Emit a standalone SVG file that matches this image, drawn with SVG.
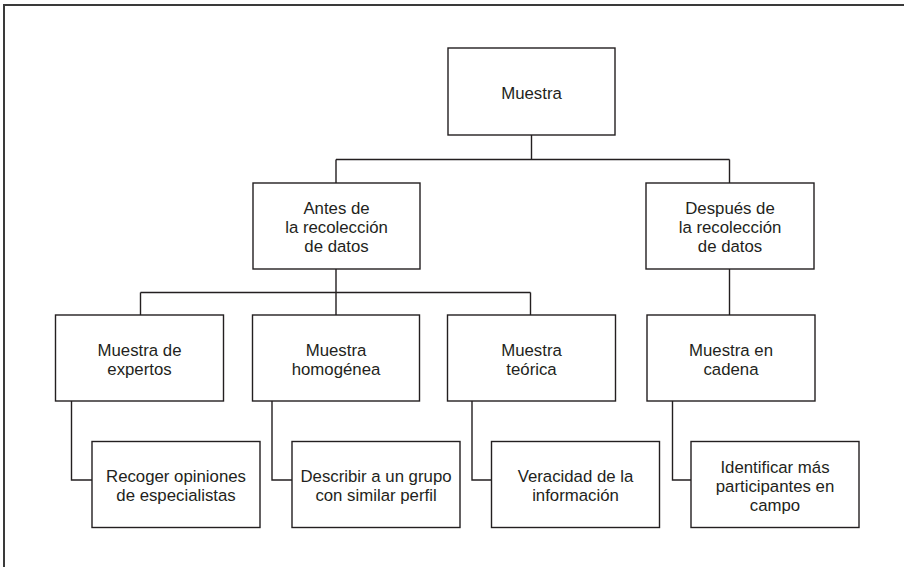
<svg xmlns="http://www.w3.org/2000/svg" width="904" height="567" viewBox="0 0 904 567">
<style>
.box{fill:#fff;stroke:#231f20;stroke-width:1.4}
.ln{fill:none;stroke:#231f20;stroke-width:1.4}
.frame{fill:none;stroke:#3a3a3a;stroke-width:2}
text{font-family:"Liberation Sans",Arial,sans-serif;font-size:16.8px;fill:#231f20;text-anchor:middle}
</style>
<rect width="904" height="567" fill="#fff"/>
<path class="frame" d="M4,567 V5 H904"/>
<g id="connectors">
<path class="ln" d="M531.5,135 V159.5 M336,159.5 H729.5 M336,159.5 V183 M729.5,159.5 V183"/>
<path class="ln" d="M336,269 V292.5 M140.5,292.5 H530.5 M140.5,292.5 V315 M336,292.5 V315 M530.5,292.5 V315"/>
<path class="ln" d="M729.5,269 V315"/>
<path class="ln" d="M71.5,401 V480 H92"/>
<path class="ln" d="M272,401 V480 H292"/>
<path class="ln" d="M472,401 V480 H491.5"/>
<path class="ln" d="M672.5,401 V480 H691"/>
</g>
<g id="muestra"><rect class="box" x="448" y="48" width="167" height="87"/><text x="531.5" y="99">Muestra</text></g>
<g id="antes"><rect class="box" x="253" y="183" width="167" height="86"/><text x="336.5" y="214">Antes de</text><text x="336.5" y="233">la recolección</text><text x="336.5" y="252">de datos</text></g>
<g id="despues"><rect class="box" x="646" y="183" width="168" height="86"/><text x="730" y="214">Después de</text><text x="730" y="233">la recolección</text><text x="730" y="252">de datos</text></g>
<g id="expertos"><rect class="box" x="55.5" y="315" width="168" height="86"/><text x="139.5" y="356">Muestra de</text><text x="139.5" y="375">expertos</text></g>
<g id="homogenea"><rect class="box" x="252.5" y="315" width="167" height="86"/><text x="336" y="356">Muestra</text><text x="336" y="375">homogénea</text></g>
<g id="teorica"><rect class="box" x="447.5" y="315" width="168" height="86"/><text x="531.5" y="356">Muestra</text><text x="531.5" y="375">teórica</text></g>
<g id="cadena"><rect class="box" x="647" y="315" width="168" height="86"/><text x="731" y="356">Muestra en</text><text x="731" y="375">cadena</text></g>
<g id="opiniones"><rect class="box" x="92" y="441.5" width="168" height="86"/><text x="176" y="482">Recoger opiniones</text><text x="176" y="501">de especialistas</text></g>
<g id="describir"><rect class="box" x="292" y="441.5" width="168" height="86"/><text x="376" y="482">Describir a un grupo</text><text x="376" y="501">con similar perfil</text></g>
<g id="veracidad"><rect class="box" x="491.5" y="441.5" width="168" height="86"/><text x="575.5" y="482">Veracidad de la</text><text x="575.5" y="501">información</text></g>
<g id="identificar"><rect class="box" x="691" y="441.5" width="168" height="86"/><text x="775" y="473">Identificar más</text><text x="775" y="492">participantes en</text><text x="775" y="511">campo</text></g>
</svg>
